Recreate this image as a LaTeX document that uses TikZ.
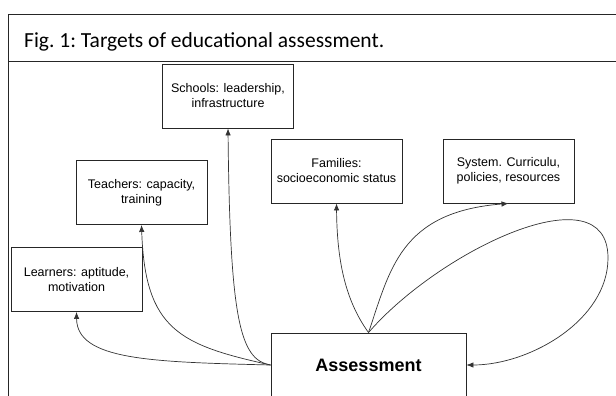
\documentclass[tikz,border=0pt]{standalone}
\usepackage{fontspec}
\setmainfont{Liberation Sans}
\newfontfamily\captionfont{Carlito}
\usetikzlibrary{arrows.meta}

\begin{document}
\begin{tikzpicture}[x=1pt,y=-1pt,
  target/.style={draw=black!85, line width=0.9pt, fill=white, align=center,
    font=\fontsize{12.5}{15}\selectfont, inner sep=0pt,
    minimum width=131pt, minimum height=64pt},
  conn/.style={draw=black!80, line width=0.7pt, -{Latex[length=7pt,width=5.5pt]}},
  frameline/.style={draw=black!85, line width=0.9pt}]
\useasboundingbox (0,0) rectangle (616,396);
\clip (0,0) rectangle (616,396);

% caption panel and figure frame
\draw[frameline] (8.5,61) -- (8.5,14) -- (620,14);
\draw[frameline] (8,400) -- (8,61) -- (620,61);
\node[anchor=base west, inner sep=0pt, font=\captionfont\fontsize{21.5}{26}\selectfont]
  (caption) at (24,48) {Fig.~1:~Targets of educational assessment.};

% targets
\node[target] (learners) at (76.5,279.5) {Learners: aptitude,\\motivation};
\node[target] (teachers) at (141.5,192.5) {Teachers: capacity,\\training};
\node[target] (schools)  at (228,96)      {Schools: leadership,\\infrastructure};
\node[target] (families) at (336.5,171)   {Families:\\socioeconomic status};
\node[target] (system)   at (508.5,171)   {System. Curriculu,\\policies, resources};
\node[target, minimum width=195pt, font=\bfseries\fontsize{18}{22}\selectfont]
  (assess) at (368.5,365) {Assessment};

% connectors from the assessment box
\draw[conn] (assess.west) .. controls (150,362) and (77,360) .. (learners.south);
\draw[conn] (assess.west) .. controls (180,345) and (145,330) .. (teachers.south);
\draw[conn] (assess.west) .. controls (240,360) and (230,320) .. (schools.south);
\draw[conn] (assess.north) .. controls (345,300) and (337,260) .. (families.south);
\draw[conn] (assess.north) .. controls (390,270) and (400,212) .. (system.south);
\draw[conn] (assess.north) .. controls (440,250) and (608,170) .. (608,258)
  .. controls (608,320) and (530,365) .. (assess.east);
\end{tikzpicture}
\end{document}
